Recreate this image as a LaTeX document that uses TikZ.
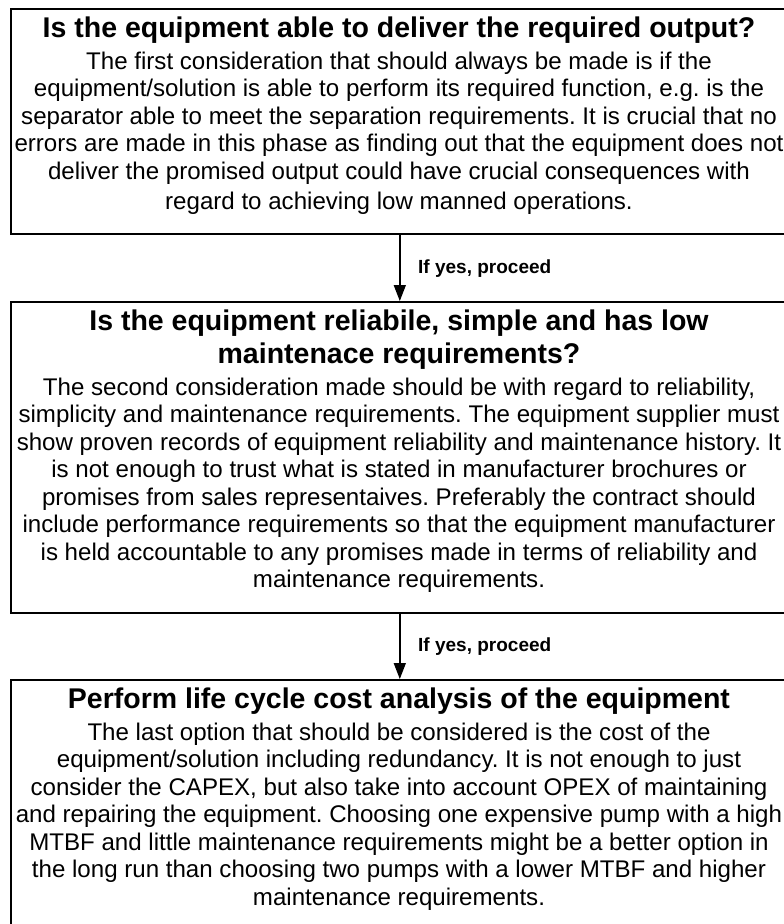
\documentclass[tikz,border=0pt]{standalone}
\usepackage{fontspec}
\setmainfont{Liberation Sans}
\usetikzlibrary{arrows.meta}
\frenchspacing
\tikzset{
  panel/.style={draw=black, line width=1.6pt, inner sep=0pt, anchor=north west},
  ttl/.style={anchor=base, inner sep=0pt, font=\fontsize{28.5}{33}\selectfont\bfseries},
  body/.style={anchor=base, inner sep=0pt, font=\fontsize{24.1}{27.5}\selectfont},
  lbl/.style={anchor=base west, inner sep=0pt, font=\fontsize{19}{22}\selectfont\bfseries},
  flow/.style={line width=1.6pt, -{Triangle[length=16pt,width=12pt]}},
}
\begin{document}
\begin{tikzpicture}[x=1pt,y=-1pt]
\useasboundingbox (0,0) rectangle (784,924);
\clip (0,0) rectangle (784,924);

% the three stage frames
\node[panel, minimum width=778pt, minimum height=225pt] (b1) at (10,8) {};
\node[panel, minimum width=778pt, minimum height=311pt] (b2) at (10,301) {};
\node[panel, minimum width=778pt, minimum height=270pt] (b3) at (10,679) {};

% stage 1
\node[ttl] (t1) at (399,37) {Is the equipment able to deliver the required output?};
\node[body] (a1) at (399,69) {The first consideration that should always be made is if the};
\node[body] (a2) at (399,96.5) {equipment/solution is able to perform its required function, e.g. is the};
\node[body] (a3) at (399,124) {separator able to meet the separation requirements. It is crucial that no};
\node[body] (a4) at (399,151.5) {errors are made in this phase as finding out that the equipment does not};
\node[body] (a5) at (399,179) {deliver the promised output could have crucial consequences with};
\node[body] (a6) at (399,209) {regard to achieving low manned operations.};

% stage 2
\node[ttl] (t2a) at (399,330) {Is the equipment reliabile, simple and has low};
\node[ttl] (t2b) at (399,363) {maintenace requirements?};
\node[body] (c1) at (399,395) {The second consideration made should be with regard to reliability,};
\node[body] (c2) at (399,422.5) {simplicity and maintenance requirements. The equipment supplier must};
\node[body] (c3) at (399,450) {show proven records of equipment reliability and maintenance history. It};
\node[body] (c4) at (399,477.5) {is not enough to trust what is stated in manufacturer brochures or};
\node[body] (c5) at (399,505) {promises from sales representaives. Preferably the contract should};
\node[body] (c6) at (399,532.5) {include performance requirements so that the equipment manufacturer};
\node[body] (c7) at (399,560) {is held accountable to any promises made in terms of reliability and};
\node[body] (c8) at (399,587.5) {maintenance requirements.};

% stage 3
\node[ttl] (t3) at (399,708) {Perform life cycle cost analysis of the equipment};
\node[body] (d1) at (399,740) {The last option that should be considered is the cost of the};
\node[body] (d2) at (399,767.5) {equipment/solution including redundancy. It is not enough to just};
\node[body] (d3) at (399,795) {consider the CAPEX, but also take into account OPEX of maintaining};
\node[body] (d4) at (399,822.5) {and repairing the equipment. Choosing one expensive pump with a high};
\node[body] (d5) at (399,850) {MTBF and little maintenance requirements might be a better option in};
\node[body] (d6) at (399,877.5) {the long run than choosing two pumps with a lower MTBF and higher};
\node[body] (d7) at (399,905) {maintenance requirements.};

% connectors
\draw[flow] (b1.south) -- (b2.north);
\draw[flow] (b2.south) -- (b3.north);
\node[lbl] (l1) at (418,273) {If yes, proceed};
\node[lbl] (l2) at (418,651) {If yes, proceed};
\end{tikzpicture}
\end{document}
